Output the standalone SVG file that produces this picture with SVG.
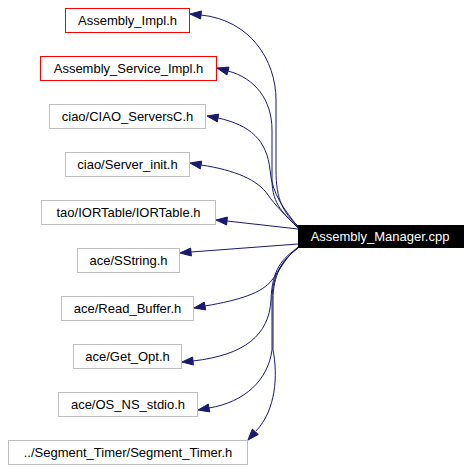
<svg xmlns="http://www.w3.org/2000/svg" width="471" height="471" viewBox="0 0 471 471">
<style>
.box{fill:#ffffff;stroke:#bfbfbf;stroke-width:1}
.red{fill:#ffffff;stroke:#ff0000;stroke-width:1}
.main{fill:#000000;stroke:#000000;stroke-width:1}
text{font-family:"Liberation Sans",Arial,sans-serif;font-size:13px;text-anchor:middle;fill:#000000}
.wt{fill:#ffffff}
.edge path{fill:none;stroke:#191970;stroke-width:1}
.edge polygon{fill:#191970;stroke:#191970;stroke-width:1}
</style>
<rect width="471" height="471" fill="#ffffff"/>
<g id="edges" class="edge">
<path d="M298,226 C283,212 276,200 276,170 L276,100 C276,60 250,20 201,15"/>
<polygon points="190,14 200.6,19 201.4,11"/>
<path d="M298,227 C285,215 272,205 272,180 L272,130 C272,100 255,78 228,71"/>
<polygon points="217,68 227,74.9 229,67.1"/>
<path d="M298,227 C285,210 272,195 270,170 C267,140 250,125 218,118"/>
<polygon points="207,116 217.3,121.9 218.7,114.1"/>
<path d="M298,228 C285,215 275,205 268,195 C258,180 235,170 201,165"/>
<polygon points="190,163 200.3,168.9 201.7,161.1"/>
<path d="M298,229 L227,221"/>
<polygon points="216,220 226.6,225 227.4,217"/>
<path d="M298,244 L191,252"/>
<polygon points="180,253 191.4,256 190.6,248"/>
<path d="M298,247 C285,258 280,270 272,280 C262,293 240,300 205,306"/>
<polygon points="194,308 205.7,309.9 204.3,302.1"/>
<path d="M298,248 C282,258 272,270 271,300 C269,335 245,355 193,361"/>
<polygon points="182,362 193.4,365 192.6,357"/>
<path d="M298,248 C282,260 272,275 272,300 L272,350 C268,380 245,402 209,408"/>
<polygon points="198,410 209.7,411.9 208.3,404.1"/>
<path d="M298,248 C282,260 273,275 273,300 L273,350 C278,375 276,410 256,431"/>
<polygon points="248,440 258.3,434.5 252.3,429.1"/>
</g>
<g id="node-main"><rect class="main" x="298.5" y="225.5" width="165" height="22"/><text class="wt" x="380" y="241">Assembly_Manager.cpp</text></g>
<g id="node-assembly-impl"><rect class="red" x="65.5" y="8.5" width="124" height="24"/><text x="127.5" y="25">Assembly_Impl.h</text></g>
<g id="node-assembly-service-impl"><rect class="red" x="40.5" y="56.5" width="176" height="24"/><text x="128.5" y="73">Assembly_Service_Impl.h</text></g>
<g id="node-ciao-serversc"><rect class="box" x="49.5" y="104.5" width="156" height="24"/><text x="127.5" y="121">ciao/CIAO_ServersC.h</text></g>
<g id="node-ciao-server-init"><rect class="box" x="65.5" y="152.5" width="124" height="24"/><text x="127.5" y="169">ciao/Server_init.h</text></g>
<g id="node-iortable"><rect class="box" x="41.5" y="200.5" width="174" height="24"/><text x="128.5" y="217">tao/IORTable/IORTable.h</text></g>
<g id="node-sstring"><rect class="box" x="77.5" y="248.5" width="102" height="24"/><text x="128.5" y="265">ace/SString.h</text></g>
<g id="node-read-buffer"><rect class="box" x="61.5" y="296.5" width="132" height="24"/><text x="127.5" y="313">ace/Read_Buffer.h</text></g>
<g id="node-get-opt"><rect class="box" x="73.5" y="344.5" width="108" height="24"/><text x="127.5" y="361">ace/Get_Opt.h</text></g>
<g id="node-os-ns-stdio"><rect class="box" x="58.5" y="392.5" width="139" height="24"/><text x="128" y="409">ace/OS_NS_stdio.h</text></g>
<g id="node-segment-timer"><rect class="box" x="8.5" y="440.5" width="239" height="24"/><text x="128" y="457">../Segment_Timer/Segment_Timer.h</text></g>
</svg>
